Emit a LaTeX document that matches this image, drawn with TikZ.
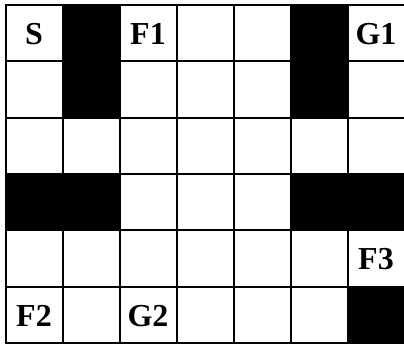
\documentclass[tikz,border=0pt]{standalone}
\usepackage{fontspec}
\setmainfont{Liberation Serif}
\begin{document}
\begin{tikzpicture}[x=1pt,y=-1pt,
  gridline/.style={line width=2pt,line cap=rect},
  wall/.style={fill=black},
  lbl/.style={font=\fontsize{32}{32}\selectfont\bfseries,inner sep=0pt}]
\useasboundingbox (0,0) rectangle (404,348);
\def\cw{57}
\def\rh{56.33}
\foreach \c/\r in {1/0,5/0,1/1,5/1,0/3,1/3,5/3,6/3,6/5}
  \fill[wall] ({5.5+\c*\cw},{5+\r*\rh}) rectangle ++(\cw,\rh);
\foreach \i in {0,...,7}
  \draw[gridline] ({5.5+\i*\cw},5) -- ({5.5+\i*\cw},343);
\foreach \j in {0,...,6}
  \draw[gridline] (5.5,{5+\j*\rh}) -- (404.5,{5+\j*\rh});
\foreach \c/\r/\t/\n in {0/0/S/S,2/0/F1/F1,6/0/G1/G1,6/4/F3/F3,0/5/F2/F2,2/5/G2/G2}
  \node[lbl] (\n) at ({5.5+(\c+0.5)*\cw},{5+(\r+0.5)*\rh+1}) {\t};
\end{tikzpicture}
\end{document}
